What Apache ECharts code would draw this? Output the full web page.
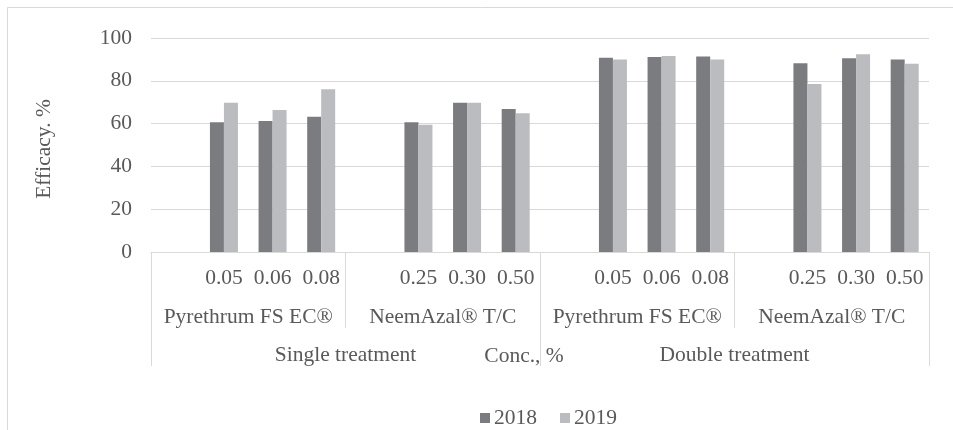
<!DOCTYPE html>
<html>
<head>
<meta charset="utf-8">
<script src="https://cdn.jsdelivr.net/npm/echarts@6/dist/echarts.min.js"></script>
<style>
html,body{margin:0;padding:0;background:#fff;}
#chart{width:953px;height:430px;}
</style>
</head>
<body>
<div id="chart"></div>
<script>
// Level 1 categories (concentration), blank slot leading each product group
var concentrations = ['', '0.05', '0.06', '0.08', '', '0.25', '0.30', '0.50', '', '0.05', '0.06', '0.08', '', '0.25', '0.30', '0.50'];
// Level 2 categories (product)
var products = ['Pyrethrum FS EC®', 'NeemAzal® T/C', 'Pyrethrum FS EC®', 'NeemAzal® T/C'];
// Level 3 categories (treatment)
var treatments = ['Single treatment', 'Double treatment'];
var seriesNames = ['2018', '2019'];
var values2018 = [null, 60.6, 61.2, 63.2, null, 60.6, 69.8, 66.8, null, 90.8, 91.1, 91.4, null, 88.2, 90.5, 89.9];
var values2019 = [null, 69.8, 66.4, 76.0, null, 59.5, 69.8, 64.8, null, 90.0, 91.6, 90.0, null, 78.5, 92.4, 88.0];
var yTicks = {min: 0, max: 100, interval: 20};

var FONT = 'Liberation Serif';
var FS = 21.5;
var TXT = '#595959';
var LINE = '#d9d9d9';

var chart = echarts.init(document.getElementById('chart'), null, {renderer: 'canvas'});
chart.setOption({
  animation: false,
  backgroundColor: '#ffffff',
  textStyle: {fontFamily: FONT},
  graphic: [{
    type: 'rect', silent: true, z: -10,
    shape: {x: 7.5, y: 7.5, width: 1000, height: 1000},
    style: {fill: 'none', stroke: LINE, lineWidth: 1}
  }],
  grid: {left: 151, right: 24, top: 38, bottom: 178, containLabel: false},
  legend: {
    data: seriesNames,
    left: 475, top: 402,
    icon: 'rect', itemWidth: 10, itemHeight: 10, itemGap: 23,
    textStyle: {fontFamily: FONT, fontSize: FS, color: TXT, padding: [2, 0, 0, -1]}
  },
  xAxis: [{
    type: 'category', position: 'bottom',
    data: concentrations,
    axisLine: {show: true, lineStyle: {color: LINE, width: 1}},
    axisTick: {show: false},
    axisLabel: {interval: 0, margin: 26, verticalAlign: 'middle', fontFamily: FONT, fontSize: FS, color: TXT},
    name: 'Conc., %', nameLocation: 'middle', nameGap: 104,
    nameTextStyle: {fontFamily: FONT, fontSize: FS, color: TXT, verticalAlign: 'middle', padding: [0, 32, 0, 0]}
  }, {
    type: 'category', position: 'bottom',
    data: products,
    axisLine: {show: false, onZero: false},
    axisTick: {show: true, length: 76, interval: 0, lineStyle: {color: LINE, width: 1}},
    axisLabel: {interval: 0, margin: 65, verticalAlign: 'middle', fontFamily: FONT, fontSize: FS, color: TXT},
    splitLine: {show: false}
  }, {
    type: 'category', position: 'bottom',
    data: treatments,
    axisLine: {show: false, onZero: false},
    axisTick: {show: true, length: 114, interval: 0, lineStyle: {color: LINE, width: 1}},
    axisLabel: {interval: 0, margin: 103, verticalAlign: 'middle', fontFamily: FONT, fontSize: FS, color: TXT},
    splitLine: {show: false}
  }],
  yAxis: {
    type: 'value', min: yTicks.min, max: yTicks.max, interval: yTicks.interval,
    axisLine: {show: false}, axisTick: {show: false},
    axisLabel: {margin: 19, fontFamily: FONT, fontSize: FS, color: TXT},
    splitLine: {lineStyle: {color: LINE, width: 1}},
    name: 'Efficacy. %', nameLocation: 'middle', nameGap: 96,
    nameTextStyle: {fontFamily: FONT, fontSize: FS, color: TXT, padding: [0, 8, 0, 0]}
  },
  series: [{
    name: seriesNames[0], type: 'bar', xAxisIndex: 0,
    data: values2018, barWidth: 14, barGap: '0%',
    itemStyle: {color: '#7b7c80'}
  }, {
    name: seriesNames[1], type: 'bar', xAxisIndex: 0,
    data: values2019, barWidth: 14, barGap: '0%',
    itemStyle: {color: '#bbbcc0'}
  }]
});
</script>
</body>
</html>
